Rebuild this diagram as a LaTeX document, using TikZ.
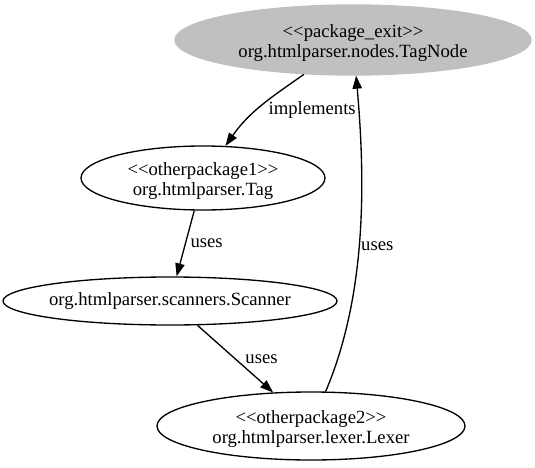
\documentclass[tikz,border=0pt]{standalone}
\usepackage{fontspec}
\setmainfont[Ligatures=TeXOff]{Liberation Serif}
\usetikzlibrary{arrows.meta,shapes.geometric}
\definecolor{gvgray}{RGB}{192,192,192}
\newcommand{\lowstrut}{\rule{0pt}{19pt}}
\begin{document}
\begin{tikzpicture}[x=1pt,y=1pt,
  every node/.style={font=\fontsize{18.67}{20}\selectfont},
  box/.style={ellipse, draw, line width=1.33pt, inner sep=0pt, align=center},
  lbl/.style={inner sep=0pt, anchor=west},
  conn/.style={line width=1.33pt, -{Triangle[length=13pt,width=9.3pt]}}
]
\useasboundingbox (0,0) rectangle (535,467);
\node[box, fill=gvgray, draw=gvgray, minimum width=356pt, minimum height=70pt] (tn) at (353,427) {\lowstrut<<package\_exit>>\\org.htmlparser.nodes.TagNode};
\node[box, minimum width=244pt, minimum height=64pt] (tag) at (203,289) {\lowstrut<<otherpackage1>>\\org.htmlparser.Tag};
\node[box, minimum width=334pt, minimum height=48pt, inner xsep=-3pt] (scan) at (170,166) {org.htmlparser.scanners.Scanner};
\node[box, minimum width=308pt, minimum height=68pt] (lex) at (311,41) {\lowstrut<<otherpackage2>>\\org.htmlparser.lexer.Lexer};
\draw[conn] (tn) to[out=215,in=55] node[lbl, pos=0.5, xshift=7pt, yshift=-4pt] {implements} (tag);
\draw[conn] (tag) -- node[lbl, pos=0.5, xshift=4.5pt] {uses} (scan);
\draw[conn] (scan) -- node[lbl, pos=0.5, xshift=9.5pt] {uses} (lex);
\draw[conn] (lex) to[out=67,in=275,looseness=0.85] node[lbl, pos=0.47, xshift=1.5pt] {uses} (tn);
\end{tikzpicture}
\end{document}
